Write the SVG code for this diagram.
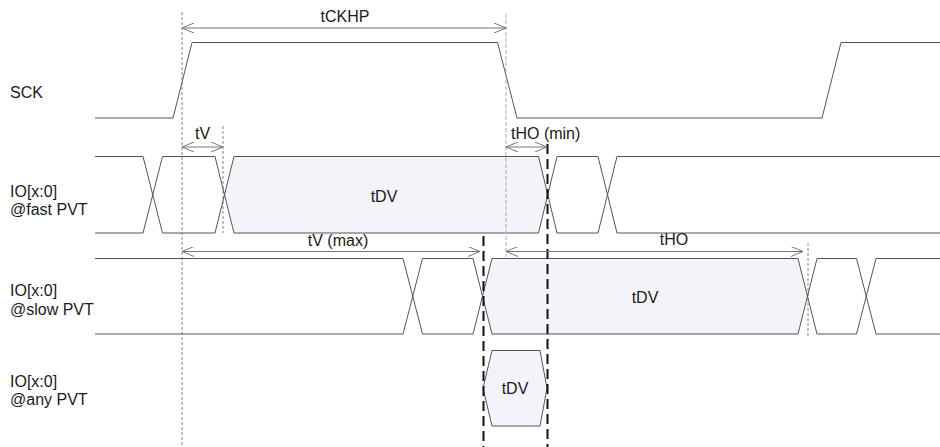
<svg xmlns="http://www.w3.org/2000/svg" width="940" height="447" viewBox="0 0 940 447">
<defs>
<marker id="ah" viewBox="0 0 12 10" refX="12" refY="5" markerWidth="12" markerHeight="10" markerUnits="userSpaceOnUse" orient="auto-start-reverse">
<path d="M0,0 L12,5 L0,10" fill="none" stroke="#777" stroke-width="1"/>
</marker>
</defs>
<style>
text{font-family:"Liberation Sans",Arial,sans-serif;font-size:16px;fill:#1a1a1a}
.sig{fill:none;stroke:#555;stroke-width:1}
.hex{fill:#f3f3f9;stroke:none}
.dim{fill:none;stroke:#777;stroke-width:1;marker-start:url(#ah);marker-end:url(#ah)}
.gd{fill:none;stroke:#666;stroke-width:0.8;stroke-dasharray:3,2}
.ld{fill:none;stroke:#aaa;stroke-width:1;stroke-dasharray:4,2}
.kd{fill:none;stroke:#111;stroke-width:2;stroke-dasharray:10,5}
.mid{text-anchor:middle}
</style>
<rect width="940" height="447" fill="#fff"/>

<g id="labels">
<text x="10" y="98">SCK</text>
<text x="10" y="196.5">IO[x:0]</text>
<text x="10" y="215">@fast PVT</text>
<text x="10" y="296">IO[x:0]</text>
<text x="10" y="314.5">@slow PVT</text>
<text x="10" y="386.5">IO[x:0]</text>
<text x="10" y="405">@any PVT</text>
</g>

<g id="sck">
<path class="sig" d="M95,118 H173 L192,42.5 H497.5 L517,118 H822 L841,42.5 H940"/>
</g>

<g id="io_fast">
<polygon class="hex" points="224.5,194.75 234,156.5 538.5,156.5 548,194.75 538.5,233 234,233"/>
<path class="sig" d="M95,156.5 H143 L162.5,233 H215 L234,156.5 H538.5 L557,233 H598 L617,156.5 H940"/>
<path class="sig" d="M95,233 H143 L162.5,156.5 H215 L234,233 H538.5 L557,156.5 H598 L617,233 H940"/>
<text class="mid" x="384" y="201.5">tDV</text>
</g>

<g id="io_slow">
<polygon class="hex" points="482.5,296.25 492,258.5 798,258.5 807.5,296.25 798,334 492,334"/>
<path class="sig" d="M95,258.5 H403 L422.5,334 H473 L492,258.5 H798 L817,334 H856.5 L876,258.5 H940"/>
<path class="sig" d="M95,334 H403 L422.5,258.5 H473 L492,334 H798 L817,258.5 H856.5 L876,334 H940"/>
<text class="mid" x="645" y="303">tDV</text>
</g>

<g id="io_any">
<polygon class="hex" points="483,388.25 492,350.5 540,350.5 547,388.25 540,426 492,426" style="stroke:#555;stroke-width:1"/>
<text class="mid" x="515" y="394">tDV</text>
</g>

<g id="connectors">
<line class="gd" x1="182" y1="12" x2="182" y2="447"/>
<line class="ld" x1="506" y1="14" x2="506" y2="257"/>
<line class="gd" x1="223" y1="126" x2="223" y2="233"/>
<line class="gd" x1="808" y1="243" x2="808" y2="336"/>
<line class="kd" x1="547.5" y1="144" x2="547.5" y2="447"/>
<line class="kd" x1="483.5" y1="236" x2="483.5" y2="447"/>
<line class="dim" x1="182" y1="28" x2="506" y2="28"/>
<line class="dim" x1="182" y1="147" x2="223" y2="147"/>
<line class="dim" x1="506" y1="147" x2="547" y2="147"/>
<line class="dim" x1="182" y1="251.5" x2="480" y2="251.5"/>
<line class="dim" x1="506" y1="251.5" x2="803" y2="251.5"/>
<text class="mid" x="345" y="22">tCKHP</text>
<text class="mid" x="202.5" y="138.5">tV</text>
<text x="511" y="138.5">tHO (min)</text>
<text class="mid" x="338" y="246">tV (max)</text>
<text class="mid" x="674" y="245">tHO</text>
</g>
</svg>
